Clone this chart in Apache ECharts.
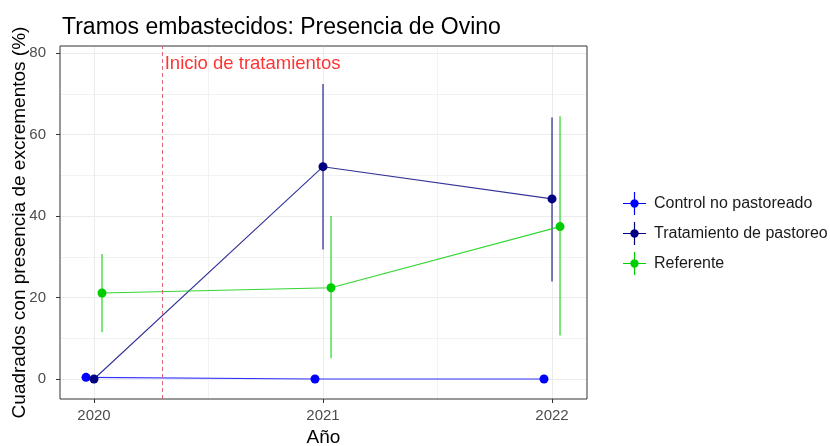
<!DOCTYPE html>
<html>
<head>
<meta charset="utf-8">
<script src="https://cdn.jsdelivr.net/npm/echarts@6/dist/echarts.min.js"></script>
<style>
html, body { margin: 0; padding: 0; background: #fff; }
#chart { width: 830px; height: 446px; }
</style>
</head>
<body>
<div id="chart"></div>
<script>
// datos
const years = [2020, 2021, 2022];

const controlMean = [0.4, 0, 0];
const controlLow = [0.4, 0, 0];
const controlHigh = [0.4, 0, 0];

const tratMean = [0, 52.1, 44.2];
const tratLow = [0, 31.8, 23.9];
const tratHigh = [0, 72.4, 64.2];

const refMean = [21.1, 22.4, 37.4];
const refLow = [11.5, 5.1, 10.7];
const refHigh = [30.7, 40.0, 64.5];

const yTicks = [0, 20, 40, 60, 80];
const startYear = 2020.3;
const startText = 'Inicio de tratamientos';
const startTextY = 77.3;

const FONT = "'Liberation Sans', Arial, sans-serif";

const groups = [
	{ name: 'Control no pastoreado', color: '#0000FF', mean: controlMean, low: controlLow, high: controlHigh, dodge: -0.035 },
	{ name: 'Tratamiento de pastoreo', color: '#000080', mean: tratMean, low: tratLow, high: tratHigh, dodge: 0 },
	{ name: 'Referente', color: '#00CD00', mean: refMean, low: refLow, high: refHigh, dodge: 0.035 },
];

// cruz con punto para la leyenda
const legendIcon = 'path://M10.9,0h1.2v23h-1.2z M0,10.9h23v1.2h-23z M11.5,7.3a4.2,4.2 0 1,1 -0.001,0z';

const chart = echarts.init(document.getElementById('chart'));

const errorSeries = groups.map((g) => ({
	name: g.name + ' error',
	type: 'custom',
	xAxisIndex: 2,
	yAxisIndex: 2,
	z: 3,
	silent: true,
	data: years.map((y, i) => [y + g.dodge, g.low[i], g.high[i]]),
	renderItem: (params, api) => {
		const p1 = api.coord([api.value(0), api.value(1)]);
		const p2 = api.coord([api.value(0), api.value(2)]);
		return {
			type: 'line',
			shape: { x1: p1[0], y1: p1[1], x2: p2[0], y2: p2[1] },
			style: { stroke: g.color, lineWidth: 1.2, opacity: 0.85 },
		};
	},
}));

const lineSeries = groups.map((g) => ({
	name: g.name + ' linea',
	type: 'line',
	xAxisIndex: 2,
	yAxisIndex: 2,
	z: 4,
	silent: true,
	showSymbol: false,
	data: years.map((y, i) => [y + g.dodge, g.mean[i]]),
	lineStyle: { color: g.color, width: 1.1, opacity: 0.8 },
}));

const pointSeries = groups.map((g) => ({
	name: g.name,
	type: 'scatter',
	xAxisIndex: 2,
	yAxisIndex: 2,
	z: 5,
	symbolSize: 9,
	itemStyle: { color: g.color, opacity: 1 },
	data: years.map((y, i) => [y + g.dodge, g.mean[i]]),
}));

const option = {
	animation: false,
	backgroundColor: '#fff',
	textStyle: { fontFamily: FONT },
	title: {
		text: 'Tramos embastecidos: Presencia de Ovino',
		left: 57,
		top: 11,
		textStyle: { fontFamily: FONT, fontSize: 23, fontWeight: 'normal', color: '#000' },
	},
	legend: {
		orient: 'vertical',
		left: 618,
		top: 187,
		itemWidth: 23,
		itemHeight: 23,
		itemGap: 7,
		textStyle: { fontFamily: FONT, fontSize: 16, color: '#1A1A1A', padding: [0, 0, 0, 3] },
		data: groups.map((g) => ({ name: g.name, icon: legendIcon, itemStyle: { color: g.color } })),
	},
	grid: [
		// lineas verticales y eje x
		{ left: 94, right: 278, top: 46, bottom: 47, outerBoundsMode: 'none' },
		// lineas horizontales y eje y
		{ left: 60, right: 243, top: 53, bottom: 67, outerBoundsMode: 'none' },
		// panel con los datos
		{ left: 60, right: 243, top: 46, bottom: 47, outerBoundsMode: 'none', show: true, borderColor: '#333', borderWidth: 1, backgroundColor: 'transparent', z: 1 },
	],
	xAxis: [
		{
			gridIndex: 0,
			type: 'value',
			min: years[0],
			max: years[years.length - 1],
			interval: 1,
			axisLine: { show: false },
			axisTick: { show: true, length: 4, lineStyle: { color: '#333' } },
			axisLabel: { color: '#4D4D4D', fontSize: 15, margin: 9, fontFamily: FONT, formatter: (v) => String(v) },
			splitLine: { show: true, lineStyle: { color: '#EBEBEB', width: 1 } },
			minorTick: { show: false, splitNumber: 2 },
			minorSplitLine: { show: true, lineStyle: { color: '#F2F2F2', width: 1 } },
		},
		{ gridIndex: 1, type: 'value', min: 0, max: 1, show: false },
		{
			gridIndex: 2,
			type: 'value',
			min: 2019.8515,
			max: 2022.1528,
			axisLine: { show: false },
			axisTick: { show: false },
			axisLabel: { show: false },
			splitLine: { show: false },
			name: 'Año',
			nameLocation: 'middle',
			nameGap: 29,
			nameTextStyle: { fontFamily: FONT, fontSize: 19, color: '#000' },
		},
	],
	yAxis: [
		{ gridIndex: 0, type: 'value', min: 0, max: 1, show: false },
		{
			gridIndex: 1,
			type: 'value',
			min: yTicks[0],
			max: yTicks[yTicks.length - 1],
			interval: 20,
			axisLine: { show: false },
			axisTick: { show: true, length: 4, lineStyle: { color: '#333' } },
			axisLabel: { color: '#4D4D4D', fontSize: 15, margin: 14, fontFamily: FONT },
			splitLine: { show: true, lineStyle: { color: '#EBEBEB', width: 1 } },
			minorTick: { show: false, splitNumber: 2 },
			minorSplitLine: { show: true, lineStyle: { color: '#F2F2F2', width: 1 } },
		},
		{
			gridIndex: 2,
			type: 'value',
			min: -4.908,
			max: 81.718,
			axisLine: { show: false },
			axisTick: { show: false },
			axisLabel: { show: false },
			splitLine: { show: false },
			name: 'Cuadrados con presencia de excrementos (%)',
			nameLocation: 'middle',
			nameGap: 31,
			nameTextStyle: { fontFamily: FONT, fontSize: 19, color: '#000' },
		},
	],
	series: [
		{
			name: 'inicio',
			type: 'scatter',
			xAxisIndex: 2,
			yAxisIndex: 2,
			z: 2,
			silent: true,
			symbolSize: 0,
			data: [[startYear, startTextY]],
			label: {
				show: true,
				position: 'right',
				distance: 2,
				formatter: startText,
				color: '#FF0000',
				fontSize: 18.5,
				fontFamily: FONT,
			},
			markLine: {
				silent: true,
				symbol: 'none',
				label: { show: false },
				lineStyle: { color: '#E0667E', width: 1, type: [4, 3] },
				data: [{ xAxis: startYear }],
			},
		},
		...errorSeries,
		...lineSeries,
		...pointSeries,
	],
};

chart.setOption(option);
window.onresize = function () {
	chart.resize();
};
</script>
</body>
</html>
